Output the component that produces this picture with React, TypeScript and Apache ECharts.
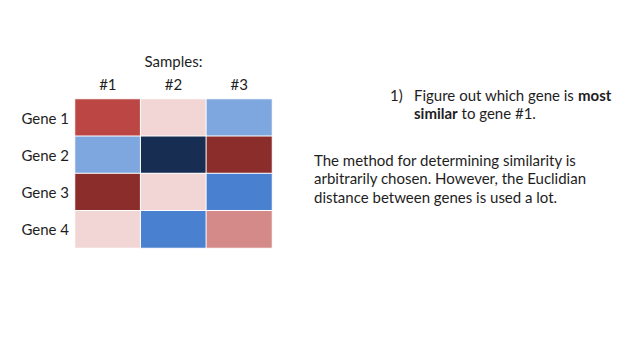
import React, { useEffect, useRef } from "react";
import * as echarts from "echarts";

const samples = ["#1", "#2", "#3"];
const genes = ["Gene 1", "Gene 2", "Gene 3", "Gene 4"];
// expression levels (-3 = low/blue ... 3 = high/red)
const gene1 = [2, 0, -1];
const gene2 = [-1, -3, 3];
const gene3 = [3, 0, -2];
const gene4 = [0, -2, 1];
const levelValues = [-3, -2, -1, 0, 1, 2, 3];
const levelColors = ["#172D52", "#4A80D0", "#7FA7DF", "#F2D6D6", "#D38A89", "#BB4644", "#8A2D2B"];

const FONT = "Lato, 'Open Sans', sans-serif";
const FS = 15;
const TXT = "#1e1e1e";

export default function App() {
  const ref = useRef<HTMLDivElement>(null);
  useEffect(() => {
    if (!ref.current) return;
    const chart = echarts.init(ref.current, null, { renderer: "svg" });
    const rows = [gene1, gene2, gene3, gene4];
    const data: number[][] = [];
    rows.forEach((r, gi) => r.forEach((v, si) => data.push([si, gi, v])));
    chart.setOption({
      animation: false,
      backgroundColor: "#ffffff",
      textStyle: { fontFamily: FONT },
      grid: { left: 75, top: 99, width: 197, height: 149 },
      xAxis: {
        type: "category",
        data: samples,
        position: "top",
        name: "Samples:",
        nameLocation: "middle",
        nameGap: 31,
        nameTextStyle: { fontSize: FS, color: TXT, fontFamily: FONT },
        axisLine: { show: false },
        axisTick: { show: false },
        axisLabel: { fontSize: FS, color: TXT, margin: 8, fontFamily: FONT },
        splitLine: { show: false },
      },
      yAxis: {
        type: "category",
        data: genes,
        inverse: true,
        axisLine: { show: false },
        axisTick: { show: false },
        axisLabel: { fontSize: FS, color: TXT, margin: 6, fontFamily: FONT, padding: [0, 0, 5, 0] },
        splitLine: { show: false },
      },
      visualMap: {
        show: false,
        type: "piecewise",
        dimension: 2,
        pieces: levelValues.map((v, i) => ({ value: v, color: levelColors[i] })),
      },
      series: [
        {
          type: "heatmap",
          data,
          itemStyle: { borderColor: "#ffffff", borderWidth: 1 },
          emphasis: { disabled: true },
        },
      ],
      graphic: [
        {
          type: "text",
          x: 390,
          y: 86,
          style: { text: "1)", fontSize: FS, lineHeight: 18, fill: TXT, fontFamily: FONT },
        },
        {
          type: "text",
          x: 414,
          y: 86,
          style: {
            text: "{n|Figure out which gene is }{b|most}\n{b|similar}{n| to gene #1.}",
            lineHeight: 18,
            fontFamily: FONT,
            rich: {
              n: { fontSize: FS, fill: TXT, fontFamily: FONT, lineHeight: 18 },
              b: { fontSize: FS, fill: TXT, fontWeight: "bold", fontFamily: FONT, lineHeight: 18 },
            },
          },
        },
        {
          type: "text",
          x: 314,
          y: 151,
          style: {
            text:
              "The method for determining similarity is\narbitrarily chosen. However, the Euclidian\ndistance between genes is used a lot.",
            fontSize: FS,
            lineHeight: 18.3,
            fill: TXT,
            fontFamily: FONT,
          },
        },
      ],
    });
    return () => chart.dispose();
  }, []);
  return (
    <div
      ref={ref}
      style={{ position: "fixed", left: 0, top: 0, width: 640, height: 360 }}
    />
  );
}
